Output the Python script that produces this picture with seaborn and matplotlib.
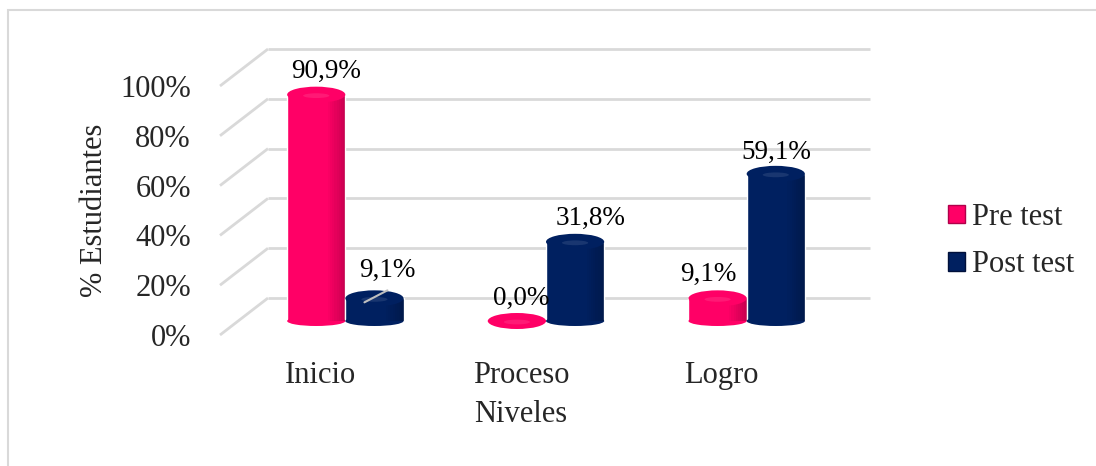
import numpy as np
import pandas as pd
import matplotlib
matplotlib.use("Agg")
import matplotlib.pyplot as plt
import seaborn as sns
from matplotlib.patches import Ellipse, Rectangle, Patch

# ---- data ----
niveles = ["Inicio", "Proceso", "Logro"]
pre_test = [90.9, 0.0, 9.1]
post_test = [9.1, 31.8, 59.1]
series_names = ["Pre test", "Post test"]
yticks = [0, 20, 40, 60, 80, 100]
ytick_labels = ["0%", "20%", "40%", "60%", "80%", "100%"]

df = pd.DataFrame({
    "Nivel": niveles * 2,
    "Prueba": [series_names[0]] * 3 + [series_names[1]] * 3,
    "Porcentaje": pre_test + post_test,
})

PINK = "#FF0066"
NAVY = "#002060"
GRID = "#D9D9D9"

sns.set_style("white")
plt.rcParams["font.family"] = ["Liberation Serif", "DejaVu Serif"]

W, H = 1096, 466
fig = plt.figure(figsize=(W / 100, H / 100), dpi=100)

# front plane of the pseudo-3D axes (pixels)
ax_left, ax_right, ax_bottom, ax_top = 220, 822, 335, 86
ax = fig.add_axes([ax_left / W, 1 - ax_bottom / H,
                   (ax_right - ax_left) / W, (ax_bottom - ax_top) / H])
ax_wpx = ax_right - ax_left
ax_hpx = ax_bottom - ax_top

sns.barplot(data=df, x="Nivel", y="Porcentaje", hue="Prueba",
            palette=[PINK, NAVY], width=0.58, ax=ax, legend=False,
            saturation=1, errorbar=None)

ax.set_xlim(-0.5, 2.5)
ax.set_ylim(0, 100)

def dx(px):
    return px * 3.0 / ax_wpx

def dy(px):
    return px * 100.0 / ax_hpx

# back wall + perspective connectors
bx, by = dx(48), dy(37)
for t in yticks:
    ax.plot([-0.5 + bx, 2.5 + bx], [t + by, t + by], color=GRID, lw=2,
            clip_on=False, zorder=0, solid_capstyle="butt")
    ax.plot([-0.5, -0.5 + bx], [t, t + by], color=GRID, lw=2,
            clip_on=False, zorder=0, solid_capstyle="butt")

# shift bars to mid depth and give them cylinder shading and caps
sx, sy = dx(25), dy(14)
eh_bot = dy(10)
eh_top = dy(16)
n_strips = 8
for cont, col in zip(ax.containers, [PINK, NAVY]):
    for p in cont:
        p.set_x(p.get_x() + sx)
        p.set_y(p.get_y() + sy)
        p.set_clip_on(False)
        p.set_zorder(3)
        x0, w = p.get_x(), p.get_width()
        y0, h = p.get_y(), p.get_height()
        cx = x0 + w / 2
        ax.add_patch(Ellipse((cx, y0), w, eh_bot, facecolor=col,
                             edgecolor="none", zorder=3, clip_on=False))
        # smooth side shading toward the right edge
        if h > 0:
            sw = w * 0.3 / n_strips
            for k in range(n_strips):
                ax.add_patch(Rectangle((x0 + w * 0.7 + k * sw, y0), sw, h,
                                       facecolor="black",
                                       alpha=0.025 * (k + 1),
                                       edgecolor="none", zorder=3.5,
                                       clip_on=False))
        ax.add_patch(Ellipse((cx, y0 + h), w, eh_top,
                             facecolor=col, edgecolor="none", zorder=4,
                             clip_on=False))
        ax.add_patch(Ellipse((cx, y0 + h - dy(1)), w * 0.45, eh_top * 0.3,
                             facecolor="white", alpha=0.10,
                             edgecolor="none", zorder=5, clip_on=False))

# data labels (pixel offsets only for layout)
label_offsets = [[(10, 23), (4, 23), (-9, 24)],
                 [(13, 28), (15, 23), (1, 21)]]
for si, cont in enumerate(ax.containers):
    vals = pre_test if si == 0 else post_test
    for ci, p in enumerate(cont):
        cx = p.get_x() + p.get_width() / 2
        top = p.get_y() + p.get_height()
        txt = f"{vals[ci]:.1f}%".replace(".", ",")
        ox, oy = label_offsets[si][ci]
        ax.annotate(txt, (cx, top), xytext=(ox, oy),
                    textcoords="offset pixels", ha="center", va="center",
                    fontsize=19.5, color="black", zorder=6,
                    annotation_clip=False)

# leader line for the small Inicio post-test label
p = ax.containers[1][0]
cx = p.get_x() + p.get_width() / 2
top = p.get_y() + p.get_height()
ax.plot([cx - dx(10), cx + dx(13)], [top - dy(4), top + dy(8)],
        color="#BFBFBF", lw=1.5, zorder=6, clip_on=False)

# axes styling
ax.set_yticks(yticks)
ax.set_yticklabels(ytick_labels)
ax.tick_params(axis="y", length=0, pad=21, labelsize=22)
ax.tick_params(axis="x", length=0, pad=19, labelsize=22)
for s in ax.spines.values():
    s.set_visible(False)
ax.grid(False)
ax.set_facecolor("none")

ax.set_ylabel("% Estudiantes", fontsize=22, va="center")
ax.yaxis.set_label_coords((95 - ax_left) / ax_wpx, (ax_bottom - 210) / ax_hpx)
ax.set_xlabel("Niveles", fontsize=22, va="center")
ax.xaxis.set_label_coords((521 - ax_left) / ax_wpx, (ax_bottom - 415) / ax_hpx)

# legend
handles = [Patch(facecolor=PINK, edgecolor="#B0004A"),
           Patch(facecolor=NAVY, edgecolor="#00103A")]
fig.legend(handles, series_names, loc="center left",
           bbox_to_anchor=(948 / W, 1 - 241 / H), frameon=False,
           fontsize=22, handlelength=0.55, handleheight=0.55,
           handletextpad=0.25, labelspacing=0.62, borderpad=0,
           borderaxespad=0)

# outer chart border
fig.add_artist(Rectangle((8 / W, -0.05), 1.2, 1 - 10 / H + 0.05,
                         transform=fig.transFigure, fill=False,
                         edgecolor=GRID, lw=1.5))

fig.savefig("out.png", dpi=100)
